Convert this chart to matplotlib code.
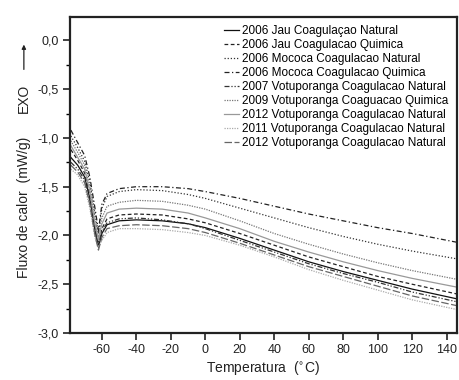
import matplotlib
matplotlib.use("Agg")
import matplotlib.pyplot as plt
from matplotlib.ticker import MultipleLocator, FuncFormatter

plt.rcParams['font.family'] = ['Liberation Sans', 'DejaVu Sans']
plt.rcParams['axes.unicode_minus'] = False

temps = [-78, -74, -70, -67, -64, -62, -60, -57, -50, -40, -25, -10, 0, 20, 40, 60, 80, 100, 120, 146]

jau_nat = [-1.20, -1.28, -1.40, -1.62, -1.95, -2.12, -1.98, -1.89, -1.85, -1.84, -1.85, -1.88, -1.92, -2.03, -2.15, -2.27, -2.37, -2.46, -2.55, -2.65]
jau_qui = [-1.12, -1.23, -1.36, -1.58, -1.92, -2.10, -1.93, -1.83, -1.79, -1.78, -1.79, -1.83, -1.87, -1.98, -2.10, -2.22, -2.32, -2.42, -2.50, -2.60]
moc_nat = [-0.98, -1.10, -1.24, -1.45, -1.78, -1.98, -1.72, -1.60, -1.55, -1.53, -1.54, -1.58, -1.62, -1.72, -1.82, -1.92, -2.01, -2.09, -2.16, -2.24]
moc_qui = [-0.92, -1.05, -1.18, -1.40, -1.72, -1.95, -1.68, -1.57, -1.52, -1.50, -1.50, -1.52, -1.55, -1.62, -1.70, -1.78, -1.85, -1.92, -1.98, -2.07]
vot07_nat = [-1.25, -1.32, -1.43, -1.65, -1.98, -2.08, -1.96, -1.87, -1.83, -1.82, -1.84, -1.88, -1.93, -2.05, -2.17, -2.29, -2.39, -2.48, -2.58, -2.68]
vot09_qui = [-1.03, -1.15, -1.28, -1.50, -1.82, -2.02, -1.82, -1.70, -1.66, -1.64, -1.65, -1.69, -1.73, -1.85, -1.98, -2.09, -2.19, -2.28, -2.36, -2.45]
vot12_nat = [-1.08, -1.20, -1.32, -1.55, -1.88, -2.05, -1.88, -1.77, -1.73, -1.72, -1.73, -1.77, -1.82, -1.93, -2.06, -2.17, -2.27, -2.36, -2.44, -2.53]
vot11_nat = [-1.32, -1.38, -1.50, -1.72, -2.02, -2.12, -2.05, -1.97, -1.93, -1.93, -1.94, -1.97, -2.00, -2.10, -2.22, -2.35, -2.46, -2.56, -2.66, -2.76]
vot12b_nat = [-1.28, -1.35, -1.46, -1.68, -2.00, -2.15, -2.02, -1.93, -1.90, -1.89, -1.90, -1.93, -1.97, -2.08, -2.20, -2.32, -2.42, -2.52, -2.62, -2.72]

labels = ["2006 Jau Coagulaçao Natural",
          "2006 Jau Coagulacao Quimica",
          "2006 Mococa Coagulacao Natural",
          "2006 Mococa Coagulacao Quimica",
          "2007 Votuporanga Coagulacao Natural",
          "2009 Votuporanga Coaguacao Quimica",
          "2012 Votuporanga Coagulacao Natural",
          "2011 Votuporanga Coagulacao Natural",
          "2012 Votuporanga Coagulacao Natural"]
series = [jau_nat, jau_qui, moc_nat, moc_qui, vot07_nat, vot09_qui, vot12_nat, vot11_nat, vot12b_nat]

styles = [("#111111", "-"),
          ("#222222", (0, (3, 2))),
          ("#333333", (0, (1, 1.5))),
          ("#222222", (0, (4, 2, 1, 2))),
          ("#333333", (0, (4, 1.5, 1, 1.5, 1, 1.5))),
          ("#777777", (0, (1, 1))),
          ("#999999", "-"),
          ("#aaaaaa", (0, (1, 1))),
          ("#666666", (0, (6, 2))),
          ]

fig = plt.figure(figsize=(4.59, 3.80), dpi=100)
ax = fig.add_axes([0.1525, 0.1237, 0.8431, 0.8316])

for vals, lab, (c, ls) in zip(series, labels, styles):
    ax.plot(temps, vals, color=c, linestyle=ls, linewidth=0.9, label=lab)

ax.set_xlim(-78.5, 146)
ax.set_ylim(-3.0, 0.24)
ax.xaxis.set_major_locator(MultipleLocator(20))
ax.yaxis.set_major_locator(MultipleLocator(0.5))
ax.yaxis.set_minor_locator(MultipleLocator(0.25))
ax.yaxis.set_major_formatter(FuncFormatter(lambda v, p: ("%.1f" % v).replace(".", ",").replace("-0,0", "0,0")))
ax.tick_params(direction="out", length=5, width=1.2, labelsize=9, colors="#222222", pad=3)
ax.tick_params(which="minor", direction="out", length=3, width=1)
for s in ax.spines.values():
    s.set_linewidth(1.6)
    s.set_color("#222222")

ax.set_xlabel("Temperatura  ($^{\\circ}$C)", fontsize=10, labelpad=2, color="#222222")
fig.text(0.052, 0.455, "Fluxo de calor  (mW/g)", rotation=90, fontsize=10,
         ha="center", va="center", color="#222222")
fig.text(0.052, 0.74, "EXO", rotation=90, fontsize=10, ha="center", va="center", color="#222222")
ax.annotate("", xy=(0.052, 0.89), xytext=(0.052, 0.81), xycoords="figure fraction",
            arrowprops=dict(arrowstyle="-|>", color="#222222", lw=0.9, mutation_scale=6))

ax.legend(loc="upper right", bbox_to_anchor=(1.0, 1.0), frameon=False,
          fontsize=8.5, handlelength=1.3, handletextpad=0.3, labelspacing=0.17,
          borderaxespad=0.3)

fig.savefig("out.png", dpi=100)
